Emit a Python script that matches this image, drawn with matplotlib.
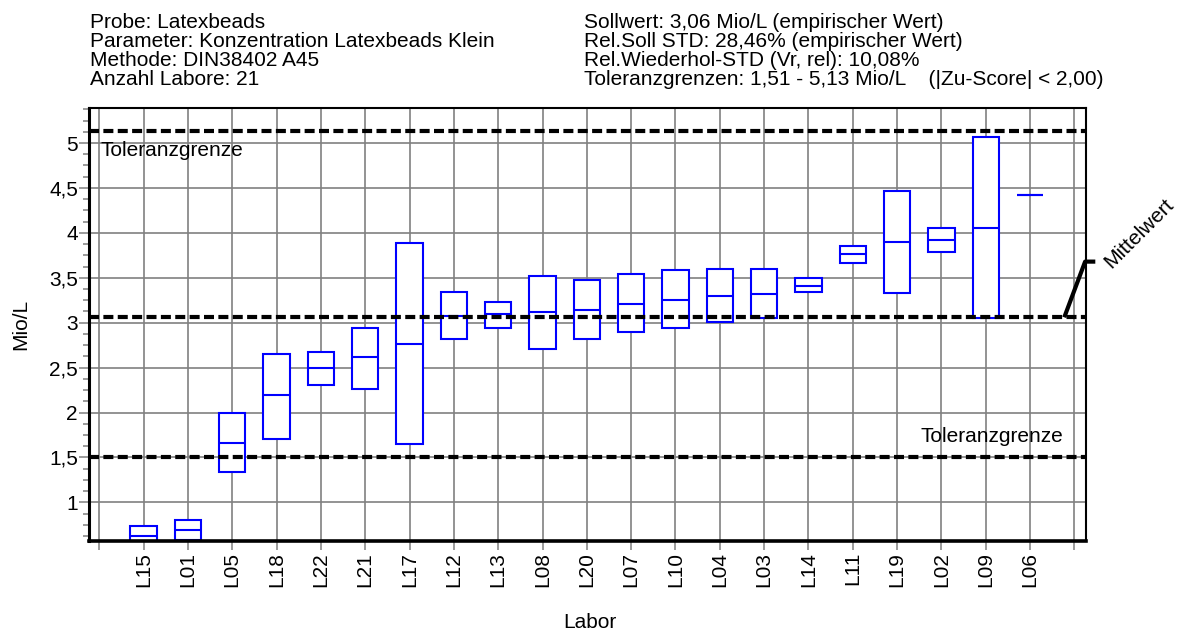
import matplotlib
matplotlib.use("Agg")
import matplotlib.pyplot as plt
from matplotlib.ticker import MultipleLocator, FuncFormatter
from matplotlib import transforms

plt.rcParams['font.family'] = ['Liberation Sans', 'DejaVu Sans']

# ---- data ----
labs = ["L15", "L01", "L05", "L18", "L22", "L21", "L17", "L12", "L13", "L08", "L20",
        "L07", "L10", "L04", "L03", "L14", "L11", "L19", "L02", "L09", "L06"]
low = [0.55, 0.58, 1.334, 1.709, 2.307, 2.259, 1.646, 2.816, 2.946, 2.705, 2.816,
       2.901, 2.946, 3.012, 3.057, 3.343, 3.670, 3.327, 3.785, 3.057, 4.424]
median = [0.628, 0.690, 1.664, 2.192, 2.496, 2.619, 2.767, 3.076, 3.098, 3.124, 3.143,
          3.213, 3.254, 3.299, 3.321, 3.410, 3.763, 3.893, 3.919, 4.053, 4.424]
high = [0.736, 0.806, 1.995, 2.656, 2.675, 2.942, 3.892, 3.343, 3.232, 3.518, 3.474,
        3.544, 3.585, 3.603, 3.603, 3.496, 3.856, 4.469, 4.049, 5.063, 4.424]
sollwert = 3.06
tol_low = 1.51
tol_high = 5.13
yticks = [1, 1.5, 2, 2.5, 3, 3.5, 4, 4.5, 5]

header_left = ["Probe: Latexbeads",
               "Parameter: Konzentration Latexbeads Klein",
               "Methode: DIN38402 A45",
               "Anzahl Labore: 21"]
header_right = ["Sollwert: 3,06 Mio/L (empirischer Wert)",
                "Rel.Soll STD: 28,46% (empirischer Wert)",
                "Rel.Wiederhol-STD (Vr, rel): 10,08%",
                "Toleranzgrenzen: 1,51 - 5,13 Mio/L    (|Zu-Score| < 2,00)"]

# ---- figure ----
W, H = 1191, 633
fig = plt.figure(figsize=(W / 100, H / 100), dpi=100)
ax = fig.add_axes([89 / W, 1 - 541 / H, (1086 - 89) / W, (541 - 108) / H])

FS = 15
GRID = '#808080'
n = len(labs)
xs = list(range(1, n + 1))

# boxes
heights = [h - l for h, l in zip(high, low)]
ax.bar(xs, heights, bottom=low, width=0.6, facecolor='white', edgecolor='#0000FF',
       linewidth=1.5, zorder=3)
ax.hlines(median, [x - 0.3 for x in xs], [x + 0.3 for x in xs], color='#0000FF',
          linewidth=1.5, zorder=3.5)

# reference lines
for v in (tol_high, sollwert, tol_low):
    ax.axhline(v, color='black', linewidth=3, linestyle=(0, (2.4, 1.05)), zorder=5)

# axes limits/ticks
ax.set_xlim(-0.23, n + 1.26)
ax.set_ylim(0.57, 5.39)
ax.set_xticks(range(0, n + 2))
ax.set_xticklabels([""] + labs + [""], rotation=90, fontsize=FS)
ax.set_yticks(yticks)
ax.yaxis.set_major_formatter(FuncFormatter(lambda v, p: ("%g" % v).replace('.', ',')))
ax.yaxis.set_minor_locator(MultipleLocator(0.125))
ax.tick_params(axis='y', which='major', length=7, width=1.1, color=GRID, labelsize=FS, pad=1)
ax.tick_params(axis='y', which='minor', length=4.3, width=1.1, color=GRID)
ax.tick_params(axis='x', which='major', length=6.5, width=1.1, color=GRID, pad=1.5)
ax.set_axisbelow(True)
ax.grid(True, which='major', color=GRID, linewidth=1.2)

ax.spines['left'].set_linewidth(2.2)
ax.spines['bottom'].set_linewidth(2.6)
ax.spines['top'].set_linewidth(1.5)
ax.spines['right'].set_linewidth(1.5)
for s in ax.spines.values():
    s.set_zorder(6)

# Toleranzgrenze labels
btr = transforms.blended_transform_factory(ax.transAxes, ax.transData)
ax.annotate("Toleranzgrenze", xy=(0.0117, tol_high), xycoords=btr, xytext=(0, -6.8),
            textcoords='offset points', ha='left', va='top', fontsize=FS, zorder=7)
ax.annotate("Toleranzgrenze", xy=(0.977, tol_low), xycoords=btr, xytext=(0, 10.8),
            textcoords='offset points', ha='right', va='baseline', fontsize=FS, zorder=7)

# Mittelwert annotation
ax.plot([n + 0.77, n + 1.24, n + 1.47], [sollwert, sollwert + 0.62, sollwert + 0.62],
        color='black', linewidth=3, clip_on=False, zorder=7, solid_capstyle='butt')
ax.text(n + 1.82, sollwert + 0.54, "Mittelwert", rotation=45, rotation_mode='anchor',
        ha='left', va='baseline', fontsize=FS, clip_on=False)

# axis labels
fig.text(590 / W, 1 - 622 / H, "Labor", ha='center', va='center', fontsize=FS)
fig.text(21 / W, 1 - 324 / H, "Mio/L", ha='center', va='center', rotation=90, fontsize=FS)

# header
baselines = [27.7, 46.7, 66.0, 85.0]
for t, y in zip(header_left, baselines):
    fig.text(90 / W, 1 - y / H, t, ha='left', va='baseline', fontsize=FS)
for t, y in zip(header_right, baselines):
    fig.text(584 / W, 1 - y / H, t, ha='left', va='baseline', fontsize=FS)

fig.savefig("out.png", dpi=100)
